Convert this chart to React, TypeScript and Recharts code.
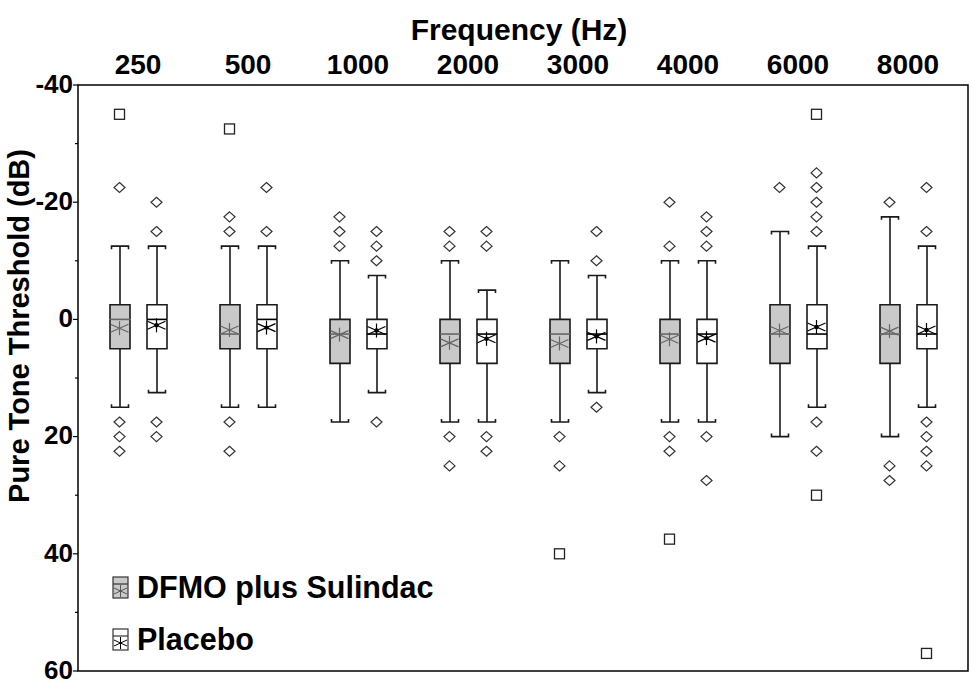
import {
  Bar,
  ComposedChart,
  Legend,
  ReferenceArea,
  Scatter,
  XAxis,
  YAxis,
} from "recharts";

const freqs = ["250", "500", "1000", "2000", "3000", "4000", "6000", "8000"];
const yTicks = [-40, -30, -20, -10, 0, 10, 20, 30, 40, 50, 60];

// DFMO plus Sulindac (dB; negative values are drawn upward)
const dfmoWhiskerTop = [-12.5, -12.5, -10, -10, -10, -10, -15, -17.5];
const dfmoQ1 = [-2.5, -2.5, 0, 0, 0, 0, -2.5, -2.5];
const dfmoMedian = [0, 2.5, 2.5, 2.5, 2.5, 2.5, 2.5, 2.5];
const dfmoQ3 = [5, 5, 7.5, 7.5, 7.5, 7.5, 7.5, 7.5];
const dfmoWhiskerBottom = [15, 15, 17.5, 17.5, 17.5, 17.5, 20, 20];
const dfmoMean = [1.5, 1.8, 2.6, 4, 4.1, 3.4, 1.9, 2];
const dfmoOutliers = [
  [-22.5, 17.5, 20, 22.5],
  [-17.5, -15, 17.5, 22.5],
  [-17.5, -15, -12.5],
  [-15, -12.5, 20, 25],
  [20, 25],
  [-20, -12.5, 20, 22.5],
  [-22.5],
  [-20, 25, 27.5],
];
const dfmoExtremes = [[-35], [-32.5], [], [], [40], [37.5], [], []];

// Placebo
const plcWhiskerTop = [-12.5, -12.5, -7.5, -5, -7.5, -10, -12.5, -12.5];
const plcQ1 = [-2.5, -2.5, 0, 0, 0, 0, -2.5, -2.5];
const plcMedian = [0, 0, 2.5, 2.5, 2.5, 2.5, 2.5, 2.5];
const plcQ3 = [5, 5, 5, 7.5, 5, 7.5, 5, 5];
const plcWhiskerBottom = [12.5, 15, 12.5, 17.5, 12.5, 17.5, 15, 15];
const plcMean = [1, 1.4, 1.9, 3.3, 2.9, 3.2, 1.3, 1.8];
const plcOutliers = [
  [-20, -15, 17.5, 20],
  [-22.5, -15],
  [-15, -12.5, -10, 17.5],
  [-15, -12.5, 20, 22.5],
  [-15, -10, 15],
  [-17.5, -15, -12.5, 20, 27.5],
  [-25, -22.5, -20, -17.5, -15, 17.5, 22.5],
  [-22.5, -15, 17.5, 20, 22.5, 25],
];
const plcExtremes = [[], [], [], [], [], [], [-35, 30], [57]];

const rows = freqs.map((freq, i) => ({
  freq,
  d0: dfmoWhiskerTop[i],
  d1: dfmoQ1[i] - dfmoWhiskerTop[i],
  d2: dfmoMedian[i] - dfmoQ1[i],
  d3: dfmoQ3[i] - dfmoMedian[i],
  d4: dfmoWhiskerBottom[i] - dfmoQ3[i],
  p0: plcWhiskerTop[i],
  p1: plcQ1[i] - plcWhiskerTop[i],
  p2: plcMedian[i] - plcQ1[i],
  p3: plcQ3[i] - plcMedian[i],
  p4: plcWhiskerBottom[i] - plcQ3[i],
}));

// bars are 20px wide with a 17px gap inside a 110px band
const DODGE = 18.5 / 110;
const PAD = 5 / 110;

const pts = (vals: number[], side: number) =>
  vals.map((y, i) => ({ x: i + side * DODGE, y }));
const multi = (lists: number[][], side: number) =>
  lists.flatMap((vals, i) => vals.map((y) => ({ x: i + side * DODGE, y })));

const DFMO_FILL = "#c9c9c9";
const LINE = "#1a1a1a";
const CAP = 8.5;

type Kind = "none" | "upper" | "boxTop" | "boxBottom" | "lower";

function segment(kind: Kind, fill: string, medianColor: string) {
  return (p: any) => {
    if (kind === "none") return <g />;
    const top = Math.min(p.y, p.y + p.height);
    const bot = Math.max(p.y, p.y + p.height);
    const cx = p.x + p.width / 2;
    const l = p.x;
    const r = p.x + p.width;
    if (kind === "upper") {
      return (
        <g stroke={LINE} strokeWidth={1.6} fill="none">
          <line x1={cx} y1={top} x2={cx} y2={bot} />
          <path d={`M${cx - CAP},${top + 3}V${top}H${cx + CAP}V${top + 3}`} />
        </g>
      );
    }
    if (kind === "lower") {
      return (
        <g stroke={LINE} strokeWidth={1.6} fill="none">
          <line x1={cx} y1={top} x2={cx} y2={bot} />
          <path d={`M${cx - CAP},${bot - 3}V${bot}H${cx + CAP}V${bot - 3}`} />
        </g>
      );
    }
    if (kind === "boxTop") {
      return (
        <g>
          <rect x={l} y={top} width={r - l} height={bot - top} fill={fill} />
          <path
            d={`M${l},${bot}V${top}H${r}V${bot}`}
            stroke={LINE}
            strokeWidth={1.6}
            fill="none"
          />
        </g>
      );
    }
    return (
      <g>
        <rect x={l} y={top} width={r - l} height={bot - top} fill={fill} />
        <path
          d={`M${l},${top}V${bot}H${r}V${top}`}
          stroke={LINE}
          strokeWidth={1.6}
          fill="none"
        />
        <line x1={l} y1={top} x2={r} y2={top} stroke={medianColor} strokeWidth={1.6} />
      </g>
    );
  };
}

function MeanStar({ cx, cy, color, dot }: any) {
  return (
    <g stroke={color} strokeWidth={1.2} fill="none">
      <line x1={cx} y1={cy - 7} x2={cx} y2={cy + 7} />
      <line x1={cx - 9} y1={cy - 4} x2={cx + 9} y2={cy + 4} />
      <line x1={cx - 9} y1={cy + 4} x2={cx + 9} y2={cy - 4} />
      {dot && <circle cx={cx} cy={cy} r={1.6} fill={color} />}
    </g>
  );
}

function Diamond({ cx, cy }: any) {
  return (
    <path
      d={`M${cx},${cy - 5}L${cx + 5.5},${cy}L${cx},${cy + 5}L${cx - 5.5},${cy}Z`}
      fill="#fff"
      stroke="#333"
      strokeWidth={1.2}
    />
  );
}

function Square({ cx, cy }: any) {
  return (
    <rect
      x={cx - 5}
      y={cy - 5}
      width={10}
      height={10}
      fill="#fff"
      stroke="#222"
      strokeWidth={1.3}
    />
  );
}

function YTick({ x, y, payload }: any) {
  const major = payload.value % 20 === 0;
  return (
    <g>
      <line x1={x - (major ? 5 : 3)} y1={y} x2={x} y2={y} stroke="#000" strokeWidth={1.2} />
      {major && (
        <text
          x={x - 5}
          y={y}
          dy="0.3em"
          textAnchor="end"
          fontSize={26}
          fontWeight={700}
          fill="#000"
        >
          {payload.value}
        </text>
      )}
    </g>
  );
}

const groups = [
  { name: "DFMO plus Sulindac", fill: DFMO_FILL, star: "#555" },
  { name: "Placebo", fill: "#fff", star: "#000" },
];

function LegendBox() {
  return (
    <div>
      {groups.map((g) => (
        <div key={g.name} style={{ display: "flex", alignItems: "center", height: 52 }}>
          <svg width={17} height={23}>
            <rect x={1} y={1} width={15} height={21} fill={g.fill} stroke="#333" strokeWidth={1.2} />
            <line x1={1} y1={8} x2={16} y2={8} stroke="#333" strokeWidth={1.2} />
            <g stroke={g.star} strokeWidth={1}>
              <line x1={8.5} y1={9} x2={8.5} y2={21} />
              <line x1={2} y1={12} x2={15} y2={18} />
              <line x1={2} y1={18} x2={15} y2={12} />
            </g>
          </svg>
          <span
            style={{
              marginLeft: 8,
              fontSize: 30.5,
              fontWeight: 700,
              color: "#000",
              lineHeight: 1,
            }}
          >
            {g.name}
          </span>
        </div>
      ))}
    </div>
  );
}

export default function App() {
  return (
    <div
      style={{
        position: "absolute",
        left: 0,
        top: 0,
        width: 972,
        height: 684,
        background: "#fff",
        fontFamily: '"Liberation Sans", Arial, sans-serif',
      }}
    >
      <div
        style={{
          position: "absolute",
          left: 319,
          top: 14,
          width: 400,
          height: 32,
          lineHeight: "32px",
          textAlign: "center",
          fontSize: 30,
          fontWeight: 700,
          color: "#000",
        }}
      >
        Frequency (Hz)
      </div>
      <div
        style={{
          position: "absolute",
          left: 19 - 250,
          top: 326 - 16,
          width: 500,
          height: 32,
          lineHeight: "32px",
          textAlign: "center",
          fontSize: 29,
          fontWeight: 700,
          color: "#000",
          transform: "rotate(-90deg)",
        }}
      >
        Pure Tone Threshold (dB)
      </div>
      <ComposedChart
        width={972}
        height={684}
        data={rows}
        margin={{ top: 45, right: 4, bottom: 13, left: 18 }}
        barSize={20}
        barGap={17}
        style={{ overflow: "visible" }}
      >
        <XAxis
          xAxisId="cat"
          dataKey="freq"
          orientation="top"
          height={40}
          axisLine={false}
          tickLine={false}
          tickSize={0}
          tickMargin={11}
          interval={0}
          padding={{ left: 5, right: 5 }}
          tick={{ fill: "#000", fontSize: 28, fontWeight: 700 }}
        />
        <XAxis
          xAxisId="num"
          type="number"
          dataKey="x"
          domain={[-0.5 - PAD, 7.5 + PAD]}
          allowDataOverflow
          hide
        />
        <YAxis
          type="number"
          domain={[-40, 60]}
          reversed
          allowDataOverflow
          ticks={yTicks}
          interval={0}
          width={60}
          axisLine={false}
          tickLine={false}
          tickSize={0}
          tickMargin={0}
          tick={<YTick />}
        />
        <ReferenceArea
          xAxisId="num"
          x1={-0.5 - PAD}
          x2={7.5 + PAD}
          y1={-40}
          y2={60}
          fill="none"
          stroke="#000"
          strokeWidth={1.5}
          fillOpacity={0}
        />
        <Bar xAxisId="cat" dataKey="d0" stackId="d" shape={segment("none", DFMO_FILL, "#666")} isAnimationActive={false} />
        <Bar xAxisId="cat" dataKey="d1" stackId="d" shape={segment("upper", DFMO_FILL, "#666")} isAnimationActive={false} />
        <Bar xAxisId="cat" dataKey="d2" stackId="d" shape={segment("boxTop", DFMO_FILL, "#666")} isAnimationActive={false} />
        <Bar xAxisId="cat" dataKey="d3" stackId="d" shape={segment("boxBottom", DFMO_FILL, "#666")} isAnimationActive={false} />
        <Bar xAxisId="cat" dataKey="d4" stackId="d" shape={segment("lower", DFMO_FILL, "#666")} isAnimationActive={false} />
        <Bar xAxisId="cat" dataKey="p0" stackId="p" shape={segment("none", "#fff", "#000")} isAnimationActive={false} />
        <Bar xAxisId="cat" dataKey="p1" stackId="p" shape={segment("upper", "#fff", "#000")} isAnimationActive={false} />
        <Bar xAxisId="cat" dataKey="p2" stackId="p" shape={segment("boxTop", "#fff", "#000")} isAnimationActive={false} />
        <Bar xAxisId="cat" dataKey="p3" stackId="p" shape={segment("boxBottom", "#fff", "#000")} isAnimationActive={false} />
        <Bar xAxisId="cat" dataKey="p4" stackId="p" shape={segment("lower", "#fff", "#000")} isAnimationActive={false} />
        <Scatter
          xAxisId="num"
          data={pts(dfmoMean, -1)}
          dataKey="y"
          shape={(p: any) => <MeanStar cx={p.cx} cy={p.cy} color="#666" />}
          isAnimationActive={false}
        />
        <Scatter
          xAxisId="num"
          data={pts(plcMean, 1)}
          dataKey="y"
          shape={(p: any) => <MeanStar cx={p.cx} cy={p.cy} color="#000" dot />}
          isAnimationActive={false}
        />
        <Scatter
          xAxisId="num"
          data={[...multi(dfmoOutliers, -1), ...multi(plcOutliers, 1)]}
          dataKey="y"
          shape={(p: any) => <Diamond cx={p.cx} cy={p.cy} />}
          isAnimationActive={false}
        />
        <Scatter
          xAxisId="num"
          data={[...multi(dfmoExtremes, -1), ...multi(plcExtremes, 1)]}
          dataKey="y"
          shape={(p: any) => <Square cx={p.cx} cy={p.cy} />}
          isAnimationActive={false}
        />
        <Legend
          layout="vertical"
          align="center"
          verticalAlign="middle"
          wrapperStyle={{ left: 112, top: 561, width: 360 }}
          content={() => <LegendBox />}
        />
      </ComposedChart>
    </div>
  );
}
